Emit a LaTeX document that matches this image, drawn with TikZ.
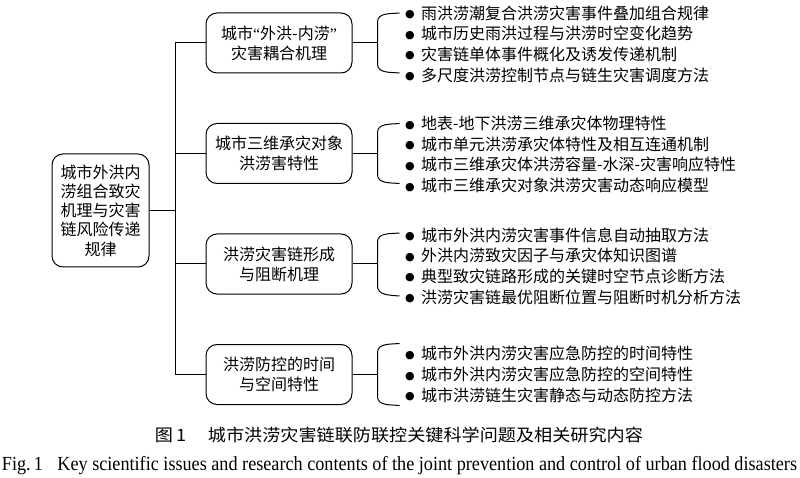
\documentclass[tikz,border=0pt]{standalone}
\usepackage{fontspec}
\setmainfont{Liberation Serif}
\newfontfamily\cjk{Noto Sans CJK SC}
\newfontfamily\sym{DejaVu Sans}
\usepackage{tikz}
\usetikzlibrary{calc}
\usetikzlibrary{positioning}

\newcommand{\blt}{\makebox[15pt][l]{\hspace{-1pt}\sym\fontsize{11}{0}\selectfont\raisebox{1.5pt}{●}}}

\begin{document}
\begin{tikzpicture}[x=1pt, y=1pt, line width=1pt,
	box/.style={draw, rounded corners=11pt, align=center, inner sep=0pt, font=\cjk\fontsize{16}{20}\selectfont},
	branch/.style={box, minimum width=146pt, minimum height=60pt},
	items/.style={align=left, anchor=west, inner sep=0pt, font=\cjk\fontsize{16}{20.7}\selectfont}]
	\useasboundingbox (0,0) rectangle (800,-478);

	% root
	\node (R) [box, minimum width=97pt, minimum height=113pt, font=\cjk\fontsize{16}{19.2}\selectfont] at (100.5,-210.5) {城市外洪内\\涝组合致灾\\机理与灾害\\链风险传递\\规律};

	% four questions
	\node (Q1) [branch] at (279,-43) {城市{\rmfamily“}外洪-内涝{\rmfamily”}\\灾害耦合机理};
	\node (Q2) [branch, below of=Q1, node distance=110.5pt] {城市三维承灾对象\\洪涝害特性};
	\node (Q3) [branch, below of=Q2, node distance=110.5pt] {洪涝灾害链形成\\与阻断机理};
	\node (Q4) [branch, below of=Q3, node distance=110.5pt] {洪涝防控的时间\\与空间特性};

	% research contents
	\node (L1) [items, right=53pt of Q1, yshift=-1pt] {\blt 雨洪涝潮复合洪涝灾害事件叠加组合规律\\\blt 城市历史雨洪过程与洪涝时空变化趋势\\\blt 灾害链单体事件概化及诱发传递机制\\\blt 多尺度洪涝控制节点与链生灾害调度方法};
	\node (L2) [items, right=53pt of Q2, yshift=-1pt] {\blt 地表-地下洪涝三维承灾体物理特性\\\blt 城市单元洪涝承灾体特性及相互连通机制\\\blt 城市三维承灾体洪涝容量-水深-灾害响应特性\\\blt 城市三维承灾对象洪涝灾害动态响应模型};
	\node (L3) [items, right=53pt of Q3, yshift=-2pt] {\blt 城市外洪内涝灾害事件信息自动抽取方法\\\blt 外洪内涝致灾因子与承灾体知识图谱\\\blt 典型致灾链路形成的关键时空节点诊断方法\\\blt 洪涝灾害链最优阻断位置与阻断时机分析方法};
	\node (L4) [items, right=53pt of Q4] {\blt 城市外洪内涝灾害应急防控的时间特性\\\blt 城市外洪内涝灾害应急防控的空间特性\\\blt 城市洪涝链生灾害静态与动态防控方法};

	% tree lines
	\draw (Q1.west) -- ++(-30,0) coordinate (T) -- (T |- Q4.west) -- (Q4.west);
	\draw (Q2.west) -- (Q2.west -| T);
	\draw (Q3.west) -- (Q3.west -| T);
	\draw (R.east) -- (R.east -| T);

	% brackets
	\draw (Q1.east) -- ++(25,0) coordinate (K1);
	\draw ($(K1)+(22,30)$) to[out=185, in=90] ($(K1)+(0,21)$) -- ($(K1)+(0,-21)$) to[out=-90, in=175] ($(K1)+(22,-30)$);
	\draw (Q2.east) -- ++(25,0) coordinate (K2);
	\draw ($(K2)+(22,30)$) to[out=185, in=90] ($(K2)+(0,21)$) -- ($(K2)+(0,-21)$) to[out=-90, in=175] ($(K2)+(22,-30)$);
	\draw (Q3.east) -- ++(25,0) coordinate (K3);
	\draw ($(K3)+(22,31)$) to[out=185, in=90] ($(K3)+(0,22)$) -- ($(K3)+(0,-22)$) to[out=-90, in=175] ($(K3)+(22,-32)$);
	\draw (Q4.east) -- ++(25,0) coordinate (K4);
	\draw ($(K4)+(22,31)$) to[out=185, in=90] ($(K4)+(0,22)$) -- ($(K4)+(0,-22)$) to[out=-90, in=175] ($(K4)+(22,-31)$);

	% caption
	\node (C1) [anchor=base, inner sep=0pt] at (399,-441.5) {\resizebox{488pt}{\height}{\cjk\fontsize{17}{20}\selectfont 图\,1\hspace{1.2em}城市洪涝灾害链联防联控关键科学问题及相关研究内容}};
	\node (C2) [anchor=base, inner sep=0pt] at (399.5,-470) {\resizebox{795pt}{\height}{\fontsize{20}{24}\selectfont Fig.\,1\hspace{0.8em}Key scientific issues and research contents of the joint prevention and control of urban flood disasters}};
\end{tikzpicture}
\end{document}
